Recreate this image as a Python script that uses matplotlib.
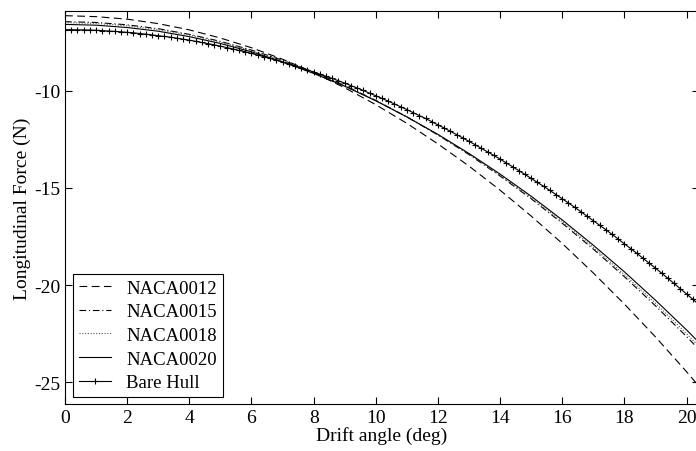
import matplotlib
matplotlib.use("Agg")
import matplotlib.pyplot as plt

# drift angle samples (deg) for the foil curves
beta = [0, 1, 2, 3, 4, 5, 6, 7, 8, 9, 10, 11, 12, 13, 14, 15, 16, 17, 18, 19, 20, 21]

naca0012 = [-6.14, -6.19, -6.32, -6.55, -6.87, -7.29, -7.79, -8.38, -9.07, -9.85, -10.72,
            -11.68, -12.74, -13.88, -15.12, -16.45, -17.86, -19.38, -20.98, -22.67, -24.46, -26.34]
naca0015 = [-6.45, -6.49, -6.61, -6.81, -7.10, -7.46, -7.91, -8.43, -9.04, -9.73, -10.50,
            -11.35, -12.28, -13.29, -14.39, -15.56, -16.82, -18.15, -19.57, -21.07, -22.65, -24.31]
naca0018 = [-6.50, -6.54, -6.66, -6.86, -7.14, -7.50, -7.94, -8.46, -9.06, -9.74, -10.50,
            -11.34, -12.26, -13.26, -14.34, -15.50, -16.74, -18.06, -19.46, -20.94, -22.50, -24.14]
naca0020 = [-6.59, -6.63, -6.75, -6.94, -7.22, -7.57, -8.00, -8.52, -9.11, -9.77, -10.52,
            -11.35, -12.25, -13.23, -14.29, -15.43, -16.65, -17.95, -19.32, -20.78, -22.31, -23.92]

# bare hull is sampled finer (dense + markers)
beta_hull = [round(0.2 * i, 1) for i in range(103)]
bare_hull = [-6.86, -6.86, -6.87, -6.87, -6.88, -6.89, -6.91, -6.93, -6.95, -6.97,
             -7.00, -7.02, -7.06, -7.09, -7.13, -7.17, -7.21, -7.25, -7.30, -7.35,
             -7.40, -7.46, -7.52, -7.58, -7.64, -7.71, -7.78, -7.85, -7.93, -8.00,
             -8.08, -8.17, -8.25, -8.34, -8.43, -8.53, -8.62, -8.72, -8.82, -8.93,
             -9.04, -9.15, -9.26, -9.37, -9.49, -9.61, -9.74, -9.86, -9.99, -10.13,
             -10.26, -10.40, -10.54, -10.68, -10.83, -10.97, -11.13, -11.28, -11.43, -11.59,
             -11.76, -11.92, -12.09, -12.26, -12.43, -12.61, -12.78, -12.97, -13.15, -13.33,
             -13.52, -13.72, -13.91, -14.11, -14.31, -14.51, -14.72, -14.92, -15.13, -15.35,
             -15.56, -15.78, -16.00, -16.23, -16.46, -16.69, -16.92, -17.15, -17.39, -17.63,
             -17.88, -18.12, -18.37, -18.62, -18.88, -19.13, -19.39, -19.66, -19.92, -20.19,
             -20.46, -20.73, -21.01]

x_ticks = [0, 2, 4, 6, 8, 10, 12, 14, 16, 18, 20]
y_ticks = [-25, -20, -15, -10]

plt.rcParams['font.family'] = ['Liberation Serif', 'DejaVu Serif']
plt.rcParams['font.size'] = 14
plt.rcParams['axes.unicode_minus'] = False

fig = plt.figure(figsize=(6.96, 4.52), dpi=100)
ax = fig.add_axes([65 / 696, 47 / 452, 634 / 696, 393 / 452])

lw = 0.8
ax.plot(beta, naca0012, color='black', linewidth=lw, dashes=(7, 4), label='NACA0012')
ax.plot(beta, naca0015, color='black', linewidth=lw, dashes=(6, 2.5, 1, 2.5), label='NACA0015')
ax.plot(beta, naca0018, color='#555555', linewidth=lw, dashes=(1, 1.5), label='NACA0018')
ax.plot(beta, naca0020, color='black', linewidth=lw, label='NACA0020')
ax.plot(beta_hull, bare_hull, color='black', linewidth=lw, marker='+', markersize=4,
        markeredgewidth=0.8, label='Bare Hull')

ax.set_xlim(0, 20.4)
ax.set_ylim(-26.12, -5.9)
ax.set_xticks(x_ticks)
ax.set_yticks(y_ticks)
ax.tick_params(direction='in', length=5, width=0.8, top=True, right=True, labelsize=14)
for s in ax.spines.values():
    s.set_linewidth(0.8)

ax.set_xlabel('Drift angle (deg)', fontsize=14, labelpad=0)
ax.set_ylabel('Longitudinal Force (N)', fontsize=14, labelpad=2)

leg = ax.legend(loc='lower left', bbox_to_anchor=(0.0126, 0.018), borderaxespad=0,
                fancybox=False, edgecolor='black', framealpha=1, fontsize=13.5,
                handlelength=1.75, labelspacing=0.35, borderpad=0.3, handletextpad=0.8)
leg.get_frame().set_linewidth(0.8)

fig.savefig('out.png', dpi=100)
